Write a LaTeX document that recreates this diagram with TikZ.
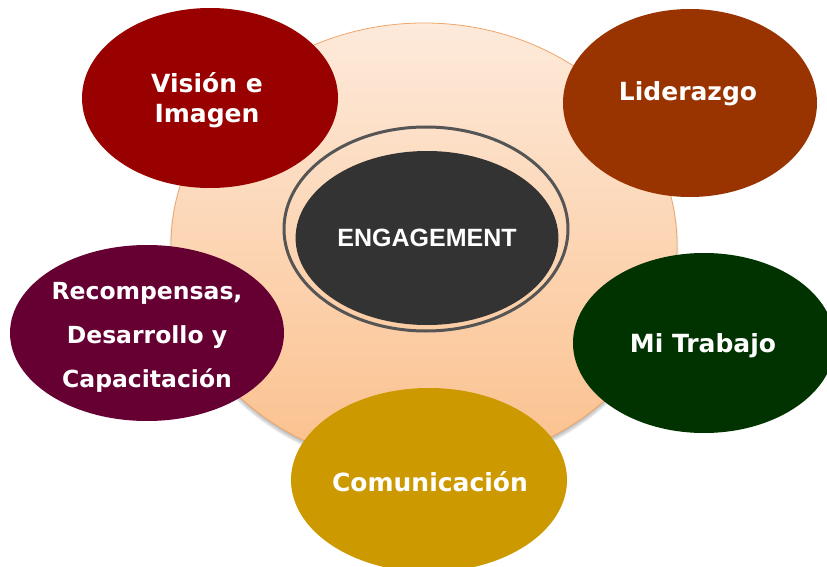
\documentclass[tikz,border=0pt]{standalone}
\usepackage{fontspec}
\setmainfont{DejaVu Sans}
\newfontfamily\capsfont{Liberation Sans}
\usetikzlibrary{shapes.geometric,shadows.blur}

\definecolor{peachtop}{HTML}{FDEADB}
\definecolor{peachbot}{HTML}{FBC08C}
\definecolor{peachline}{HTML}{EFA56A}
\definecolor{ringgray}{HTML}{555555}
\definecolor{coregray}{HTML}{333333}
\definecolor{cvision}{HTML}{990000}
\definecolor{cliderazgo}{HTML}{993300}
\definecolor{crecomp}{HTML}{660033}
\definecolor{ccomun}{HTML}{CC9900}
\definecolor{ctrabajo}{HTML}{003300}

\tikzset{
  petal/.style={ellipse, inner sep=0pt, text=white, align=center,
    font=\bfseries\fontsize{25}{30}\selectfont},
  backdisc/.style={ellipse, inner sep=0pt, draw=peachline, line width=0.8pt,
    top color=peachtop, bottom color=peachbot,
    blur shadow={shadow xshift=0pt, shadow yshift=-4pt, shadow blur steps=8, shadow opacity=25}},
}

\begin{document}
\begin{tikzpicture}[x=1pt,y=-1pt]
  \useasboundingbox (0,0) rectangle (827,567);

  % large peach disc behind everything
  \node[backdisc, minimum width=506pt, minimum height=444pt] (disc) at (424,245) {};

  % central engagement core with its ring
  \node[ellipse, draw=ringgray, line width=3pt, minimum width=284pt, minimum height=204pt] (ring) at (426,229) {};
  \node[ellipse, fill=coregray, minimum width=256pt, minimum height=174pt, text=white,
        font=\capsfont\bfseries\fontsize{25}{28}\selectfont] (core) at (427,238) {ENGAGEMENT};

  % surrounding factors
  \node[petal, fill=cvision, minimum width=256pt, minimum height=180pt] (vision) at (210,98) {};
  \node[petal] (visiontext) at (207,100) {Visión e\\Imagen};

  \node[petal, fill=cliderazgo, minimum width=254pt, minimum height=188pt] (liderazgo) at (690,103) {};
  \node[petal] (lidtext) at (688,94) {Liderazgo};

  \node[petal, fill=crecomp, minimum width=274pt, minimum height=176pt] (recomp) at (147,333) {};
  \node[petal, font=\bfseries\fontsize{23.5}{44}\selectfont] (rectext) at (147,337) {Recompensas,\\Desarrollo y\\Capacitación};

  \node[petal, fill=ccomun, minimum width=276pt, minimum height=184pt] (comun) at (429,480) {};
  \node[petal] (comtext) at (430,482) {Comunicación};

  \node[petal, fill=ctrabajo, minimum width=262pt, minimum height=180pt] (trabajo) at (704,343) {};
  \node[petal] (trabtext) at (703,346) {Mi Trabajo};
\end{tikzpicture}
\end{document}
